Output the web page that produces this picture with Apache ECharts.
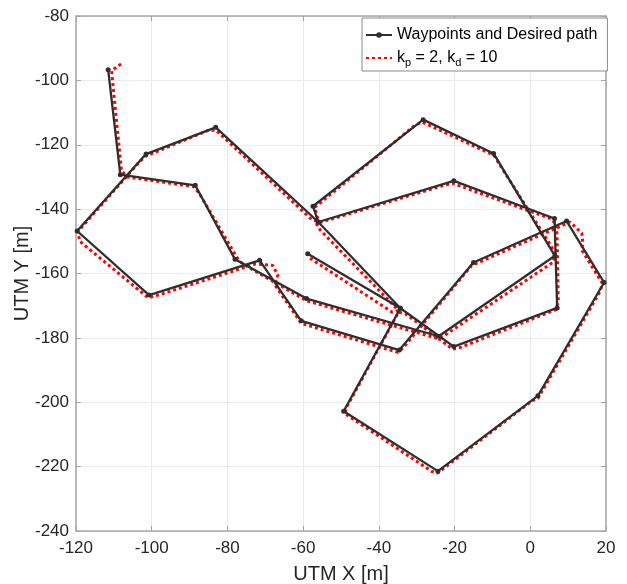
<!DOCTYPE html>
<html>
<head>
<meta charset="utf-8">
<script src="https://cdn.jsdelivr.net/npm/echarts@6/dist/echarts.min.js"></script>
<style>
html,body{margin:0;padding:0;background:#fff;}
#chart{width:627px;height:584px;}
</style>
</head>
<body>
<div id="chart"></div>
<script>
// Waypoints (path order)
const wpX = [-111.5, -108.3, -88.5, -78.0, -59.1, -24.2, 6.5, -9.7, -28.3, -57.4, -56.0, -83.1, -101.5, -119.7, -100.7, -71.5, -60.5, -34.6, -15.0, 9.6, 19.5, 2.0, -24.4, -49.3, -34.3, -20.2, 7.1, 6.4, -20.2, -56.0, -34.3, -58.8];
const wpY = [-96.7, -129.3, -132.6, -155.6, -167.8, -179.5, -154.5, -122.7, -112.2, -139.1, -144.0, -114.6, -122.9, -146.8, -166.7, -155.9, -174.7, -183.8, -156.6, -143.7, -162.8, -198.0, -221.4, -202.8, -170.8, -182.7, -170.7, -142.9, -131.2, -144.0, -170.8, -153.9];

// Simulated trajectory (kp = 2, kd = 10), estimated from the figure
const trX = [-108.1, -110.6, -108.0, -106.5, -89.0, -87.5, -77.5, -76.0, -59.0, -24.5, -23.0, 6.0, 6.6, 5.5, -9.5, -11.0, -28.5, -30.5, -57.0, -56.0, -57.5, -83.0, -85.0, -101.5, -103.0, -119.5, -119.0, -101.0, -99.0, -72.5, -68.0, -66.7, -67.5, -60.5, -35.0, -33.5, -15.5, -13.5, 10.5, 13.6, 13.9, 13.5, 19.0, 18.5, 2.0, 0.5, -24.5, -26.0, -49.0, -48.5, -34.8, -33.0, -20.5, -18.5, 6.8, 7.4, 7.0, 5.5, -20.5, -22.5, -56.5, -55.5, -34.8, -36.5, -58.5];
const trY = [-94.9, -97.0, -128.0, -130.0, -133.0, -135.0, -155.0, -157.0, -168.5, -180.2, -179.5, -156.5, -154.0, -151.5, -123.5, -122.5, -113.0, -114.0, -139.5, -143.5, -143.5, -115.5, -115.5, -123.5, -125.0, -147.0, -150.0, -167.5, -167.0, -157.0, -157.5, -160.5, -163.5, -175.5, -184.5, -183.0, -157.5, -156.5, -144.0, -147.5, -150.6, -152.5, -163.0, -165.5, -198.8, -199.5, -222.0, -221.5, -203.5, -201.5, -172.0, -172.5, -183.5, -183.0, -171.2, -168.5, -145.0, -143.0, -132.0, -132.5, -144.5, -146.5, -171.5, -172.0, -155.0];

const xTicks = [-120, -100, -80, -60, -40, -20, 0, 20];
const yTicks = [-240, -220, -200, -180, -160, -140, -120, -100, -80];

const seriesNames = ['Waypoints and Desired path', 'kp = 2, kd = 10'];

const wpData = wpX.map((x, i) => [x, wpY[i]]);
const trData = trX.map((x, i) => [x, trY[i]]);

const chart = echarts.init(document.getElementById('chart'), null, {renderer: 'canvas'});
const font = 'Liberation Sans, Arial, Helvetica, sans-serif';
const axisGray = '#a6a6a6';
const textCol = '#262626';

const baseX = {
  type: 'value', min: xTicks[0], max: xTicks[xTicks.length - 1], interval: 20
};
const baseY = {
  type: 'value', min: yTicks[0], max: yTicks[yTicks.length - 1], interval: 20
};

chart.setOption({
  animation: false,
  backgroundColor: '#ffffff',
  grid: {left: 76, right: 21, top: 16, bottom: 53, containLabel: false, outerBoundsMode: 'none'},
  xAxis: [
    Object.assign({}, baseX, {
      position: 'bottom',
      name: 'UTM X [m]', nameLocation: 'middle', nameGap: 33,
      nameMoveOverlap: false,
      nameTextStyle: {fontSize: 20, color: textCol, fontFamily: font},
      axisLine: {show: true, onZero: false, lineStyle: {color: axisGray, width: 1.5}},
      axisTick: {show: true, inside: true, length: 5, lineStyle: {color: axisGray}},
      axisLabel: {fontSize: 17, color: textCol, fontFamily: font, margin: 9},
      splitLine: {show: true, lineStyle: {color: '#ebebeb', width: 1}}
    }),
    Object.assign({}, baseX, {
      position: 'top',
      axisLine: {show: true, onZero: false, lineStyle: {color: axisGray, width: 1.5}},
      axisTick: {show: true, inside: true, length: 5, lineStyle: {color: axisGray}},
      axisLabel: {show: false},
      splitLine: {show: false}
    })
  ],
  yAxis: [
    Object.assign({}, baseY, {
      position: 'left',
      name: 'UTM Y [m]', nameLocation: 'middle', nameGap: 44,
      nameMoveOverlap: false,
      nameTextStyle: {fontSize: 20, color: textCol, fontFamily: font},
      axisLine: {show: true, onZero: false, lineStyle: {color: axisGray, width: 1.5}},
      axisTick: {show: true, inside: true, length: 5, lineStyle: {color: axisGray}},
      axisLabel: {fontSize: 17, color: textCol, fontFamily: font, margin: 7},
      splitLine: {show: true, lineStyle: {color: '#ebebeb', width: 1}}
    }),
    Object.assign({}, baseY, {
      position: 'right',
      axisLine: {show: true, onZero: false, lineStyle: {color: axisGray, width: 1.5}},
      axisTick: {show: true, inside: true, length: 5, lineStyle: {color: axisGray}},
      axisLabel: {show: false},
      splitLine: {show: false}
    })
  ],
  legend: {
    show: true,
    orient: 'vertical',
    left: 362, top: 18,
    padding: [8, 10, 3, 3],
    itemGap: 5,
    itemWidth: 26, itemHeight: 7,
    backgroundColor: '#ffffff',
    borderColor: '#8a8a8a', borderWidth: 1,
    data: [
      {name: seriesNames[0]},
      {name: seriesNames[1], itemStyle: {opacity: 0}}
    ],
    textStyle: {
      fontSize: 16, color: '#000', fontFamily: font, lineHeight: 18,
      rich: {
        t: {fontSize: 16, color: '#000', fontFamily: font, verticalAlign: 'middle'},
        s: {fontSize: 11, color: '#000', fontFamily: font, padding: [9, 0, 0, 0], verticalAlign: 'middle'}
      }
    },
    formatter: function (name) {
      if (name === seriesNames[1]) {
        return '{t|k}{s|p}{t| = 2, k}{s|d}{t| = 10}';
      }
      return '{t|' + name + '}';
    }
  },
  series: [
    {
      name: seriesNames[0],
      type: 'line',
      data: wpData,
      xAxisIndex: 0, yAxisIndex: 0,
      z: 4,
      symbol: 'circle', symbolSize: 5,
      showSymbol: true,
      itemStyle: {color: '#2e2e2e'},
      lineStyle: {color: '#2e2e2e', width: 2.3},
      emphasis: {disabled: true},
      silent: true
    },
    {
      name: seriesNames[1],
      type: 'line',
      data: trData,
      xAxisIndex: 0, yAxisIndex: 0,
      z: 3,
      symbol: 'none',
      smooth: false,
      itemStyle: {color: '#ff0000'},
      lineStyle: {color: '#ff0000', width: 3, type: [3, 3]},
      emphasis: {disabled: true},
      silent: true
    }
  ]
});
</script>
</body>
</html>
